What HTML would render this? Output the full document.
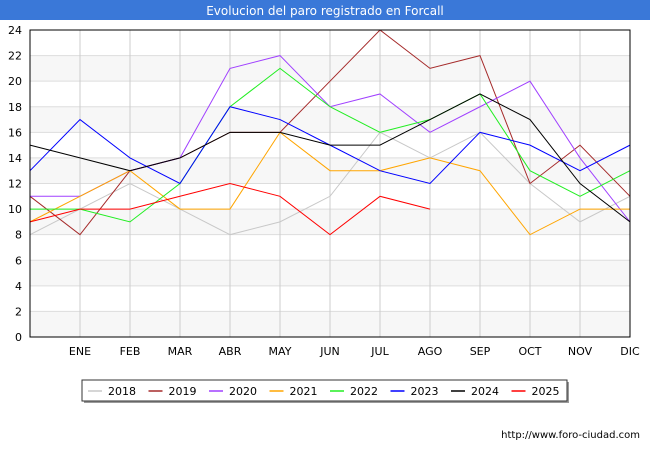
<!DOCTYPE html>
<html><head><meta charset="utf-8"><style>
body{margin:0;background:#fff;font-family:"Liberation Sans","DejaVu Sans",sans-serif}
svg text{font-family:"DejaVu Sans","Liberation Sans",sans-serif}
</style></head><body>
<svg id="c" width="650" height="450">
<rect x="0" y="0" width="650" height="20" fill="#3a78d8"/>
<text x="325" y="15" text-anchor="middle" font-size="12" fill="#fff">Evolucion del paro registrado en Forcall</text>
<g id="grid"></g><g id="lines"></g>
<rect x="30" y="30" width="600" height="307" fill="none" stroke="#000"/>
<g id="legend"></g>
<text x="640" y="438" text-anchor="end" font-size="10" fill="#000">http://www.foro-ciudad.com</text>
</svg>
<script>
const months=["","ENE","FEB","MAR","ABR","MAY","JUN","JUL","AGO","SEP","OCT","NOV","DIC"];
const yTicks=[0,2,4,6,8,10,12,14,16,18,20,22,24];
const years=["2018","2019","2020","2021","2022","2023","2024","2025"];
const colors=["#c8c8c8","#a52a2a","#a040ff","#ffa500","#22ee22","#0000ff","#000000","#ff0000"];
const s2018=[8,10,12,10,8,9,11,16,14,16,12,9,11];
const s2019=[11,8,13,14,16,16,20,24,21,22,12,15,11];
const s2020=[11,11,13,14,21,22,18,19,16,18,20,14,9];
const s2021=[9,11,13,10,10,16,13,13,14,13,8,10,10];
const s2022=[10,10,9,12,18,21,18,16,17,19,13,11,13];
const s2023=[13,17,14,12,18,17,15,13,12,16,15,13,15];
const s2024=[15,14,13,14,16,16,15,15,17,19,17,12,9];
const s2025=[9,10,10,11,12,11,8,11,10];
const series=[s2018,s2019,s2020,s2021,s2022,s2023,s2024,s2025];
const NS="http://www.w3.org/2000/svg";
const X=i=>30+i*50, Y=v=>337-v*307/24;
function mk(t,a,p){const e=document.createElementNS(NS,t);for(const k in a)e.setAttribute(k,a[k]);p.appendChild(e);return e;}
const g=document.getElementById('grid');
for(let i=0;i<yTicks.length-1;i++){if(i%2==0){const r=mk('rect',{x:30,y:Y(yTicks[i+1]),width:600,height:Y(yTicks[i])-Y(yTicks[i+1]),fill:'#f7f7f7'},g);

}}
yTicks.forEach(v=>{const l=mk('line',{x1:30,x2:630,y1:Y(v),y2:Y(v),stroke:'#ddd'},g);


const t=mk('text',{x:22,y:Y(v)+4,'text-anchor':'end','font-size':11},g);t.textContent=v;

});
months.forEach((m,i)=>{if(i>0){const l=mk('line',{x1:X(i),x2:X(i),y1:30,y2:337,stroke:'#ccc'},g);


const t=mk('text',{x:X(i),y:355,'text-anchor':'middle','font-size':11},g);t.textContent=m;

}});
const L=document.getElementById('lines');
series.forEach((s,k)=>{const p=mk('polyline',{points:s.map((v,i)=>X(i)+','+Y(v)).join(' '),fill:'none',stroke:colors[k],'stroke-width':1},L);

});
const lg=document.getElementById('legend');
const sh=mk('rect',{x:84,y:382,width:485,height:21,fill:'#999'},lg);


const bx=mk('rect',{x:82,y:380,width:485,height:21,fill:'#fff',stroke:'#333'},lg);


years.forEach((y,k)=>{const x0=88+k*60.5;
const l=mk('line',{x1:x0,x2:x0+14,y1:391,y2:391,stroke:colors[k],'stroke-width':1.5},lg);


const t=mk('text',{x:x0+20,y:395,'font-size':11},lg);t.textContent=y;

});
</script>
</body></html>
